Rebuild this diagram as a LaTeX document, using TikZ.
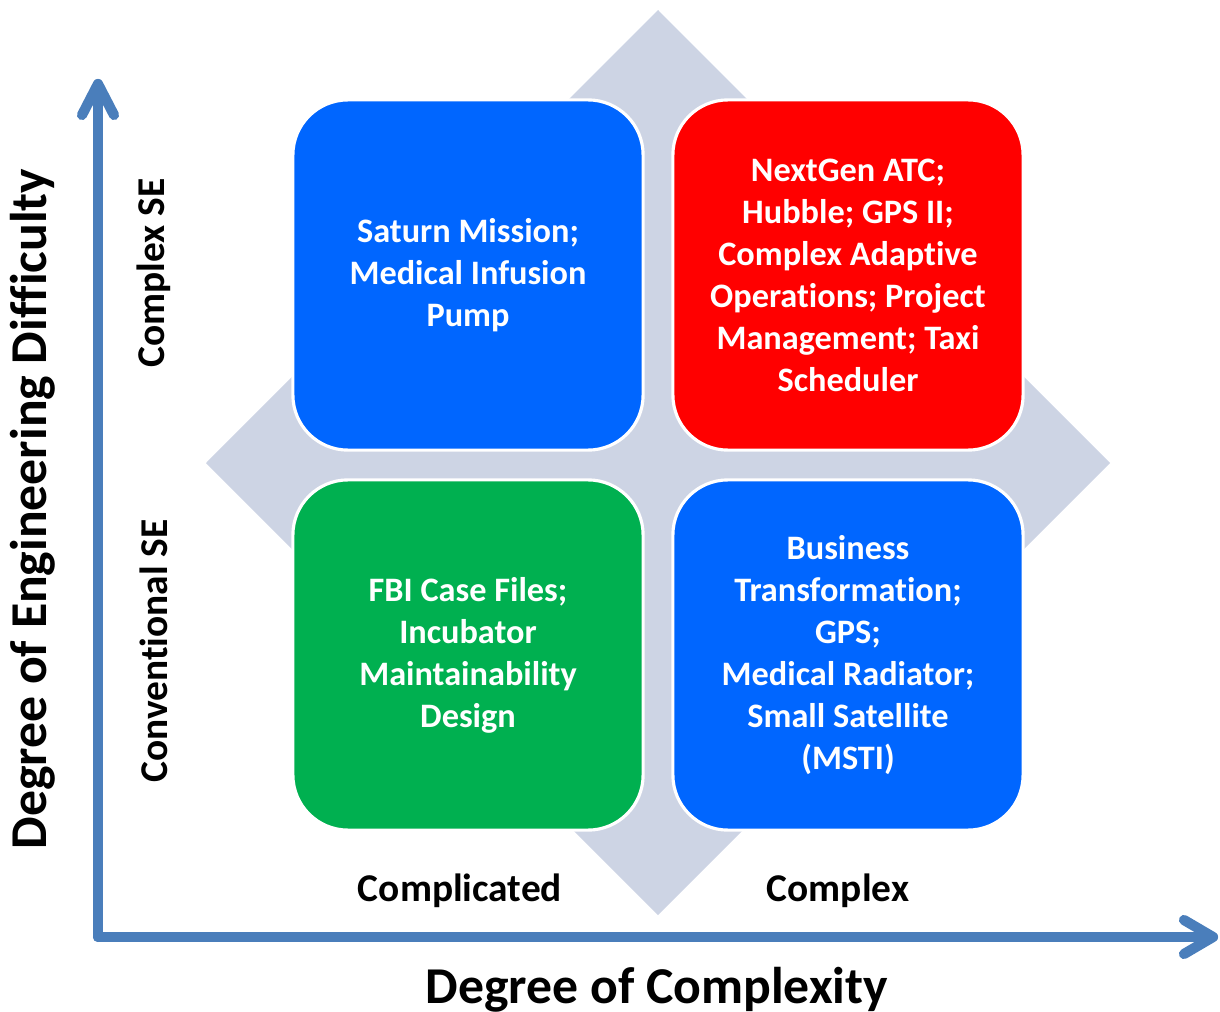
\documentclass[tikz,border=0pt]{standalone}
\usepackage{fontspec}
\setmainfont{Carlito}[Ligatures={NoCommon}]
\definecolor{diam}{HTML}{CDD4E4}
\definecolor{axisblue}{HTML}{4A7EBB}
\definecolor{boxblue}{HTML}{0066FF}
\definecolor{boxred}{HTML}{FF0000}
\definecolor{boxgreen}{HTML}{00B050}
\begin{document}
\begin{tikzpicture}[x=0.01cm,y=-0.01cm,
  quad/.style={rounded corners=0.55cm, draw=white, line width=0.9pt,
    minimum width=3.5cm, minimum height=3.5cm, inner sep=0pt, align=center,
    text=white, font=\bfseries\fontsize{9.75}{11.95}\selectfont},
  axisline/.style={draw=axisblue, line width=2.9pt, line cap=round, line join=round},
  axlabel/.style={font=\bfseries\fontsize{14.7}{16}\selectfont, inner sep=0pt},
  collabel/.style={font=\bfseries\fontsize{11.2}{13}\selectfont, inner sep=0pt}]
\useasboundingbox (0,0) rectangle (1220,1012);
% diamond
\fill[diam] (658,10) -- (1110,463) -- (658,915) -- (206,463) -- cycle;
% boxes
\node[quad, fill=boxblue] (tl) at (468,275) {Saturn Mission;\\Medical Infusion\\Pump};
\node[quad, fill=boxred] (tr) at (848,275) {NextGen ATC;\\Hubble; GPS II;\\Complex Adaptive\\Operations; Project\\Management; Taxi\\Scheduler};
\node[quad, fill=boxgreen] (bl) at (468,655) {FBI Case Files;\\Incubator\\Maintainability\\Design};
\node[quad, fill=boxblue] (br) at (848,655) {Business\\Transformation;\\GPS;\\Medical Radiator;\\Small Satellite\\(MSTI)};
% axes
\coordinate (origin) at (98,937);
\coordinate (ytop) at (98,84);
\coordinate (xend) at (1213,937);
\draw[axisline] (origin) -- (ytop);
\draw[axisline] (origin) -- (xend);
\draw[axisline] ([shift={(-16,31)}]ytop) -- (ytop) -- ([shift={(16,31)}]ytop);
\draw[axisline] ([shift={(-29,-17)}]xend) -- (xend) -- ([shift={(-29,17)}]xend);
% labels
\node[axlabel, rotate=90] (ylab) at (33,509) {Degree of Engineering Difficulty};
\node[axlabel] (xlab) at (657,990) {Degree of Complexity};
\node[collabel] (c1) at (460,891) {Complicated};
\node[collabel] (c2) at (838,891) {Complex};
\node[collabel, rotate=90] (r1) at (154,273) {Complex SE};
\node[collabel, rotate=90] (r2) at (154,651) {Conventional SE};
\end{tikzpicture}
\end{document}
